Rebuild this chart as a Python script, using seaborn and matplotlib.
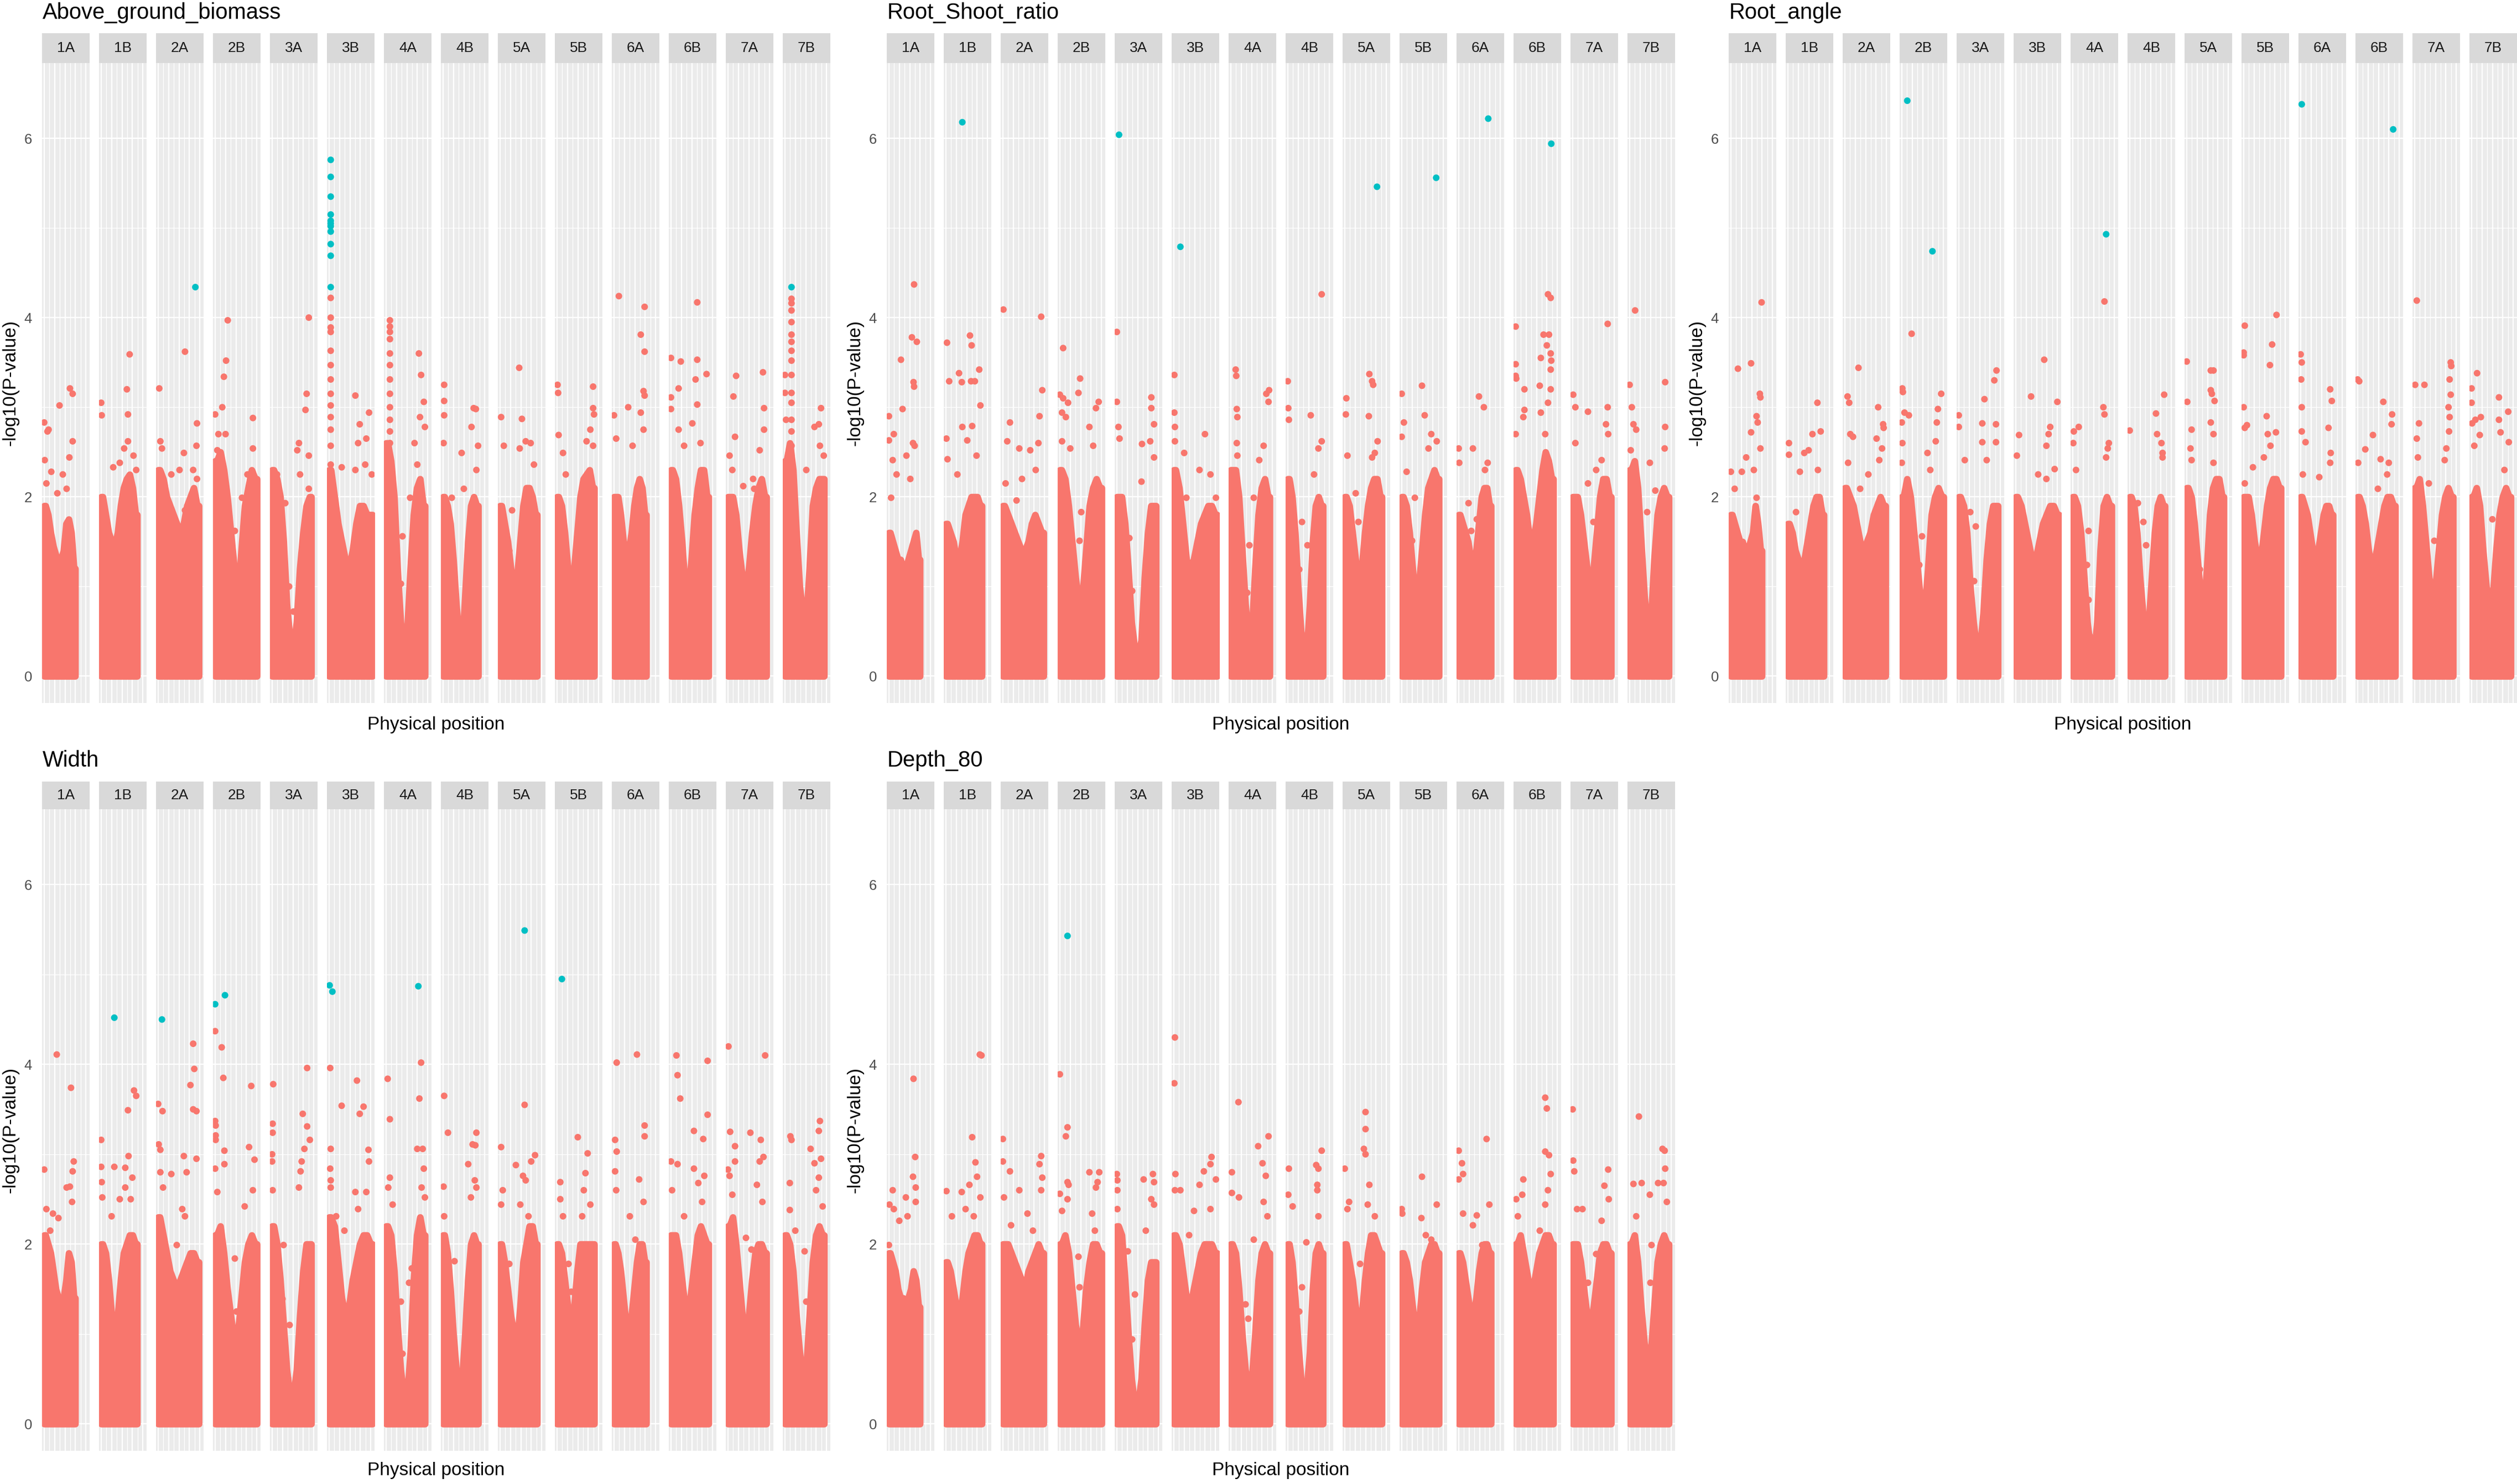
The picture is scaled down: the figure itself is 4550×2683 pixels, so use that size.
import pandas as pd
import seaborn as sns
import matplotlib
matplotlib.use("Agg")
import matplotlib.pyplot as plt

# Chromosomes and their lengths (Mb)
chroms = ["1A", "1B", "2A", "2B", "3A", "3B", "4A", "4B", "5A", "5B", "6A", "6B", "7A", "7B"]
chrom_len = [594, 689, 780, 801, 750, 830, 745, 674, 710, 713, 618, 721, 737, 751]

traits = ["Above_ground_biomass", "Root_Shoot_ratio", "Root_angle", "Width", "Depth_80"]
# -log10(P) above which a marker is flagged significant (cyan)
sig_cut = [4.3, 4.6, 4.5, 4.45, 5.0]

# Height of the dense cloud of markers, 12 windows along each chromosome
agb_env = [
    [1.9, 1.8, 1.6, 1.45, 1.35, 1.25, 1.3, 1.4, 1.7, 1.75, 1.6, 1.2],
    [2.0, 1.8, 1.6, 1.5, 1.45, 1.6, 1.9, 2.1, 2.2, 2.25, 2.1, 1.8],
    [2.3, 2.2, 2.0, 1.9, 1.8, 1.7, 1.6, 1.7, 1.9, 2.0, 2.1, 1.9],
    [2.4, 2.5, 2.3, 2.0, 1.6, 1.2, 0.8, 1.4, 1.9, 2.1, 2.3, 2.2],
    [2.3, 2.2, 2.0, 1.5, 0.8, 0.4, 0.3, 0.6, 1.2, 1.6, 1.9, 2.0],
    [2.3, 2.0, 1.7, 1.5, 1.3, 1.2, 1.4, 1.7, 1.9, 1.9, 1.8, 1.8],
    [2.6, 2.4, 2.0, 1.2, 0.6, 0.3, 0.5, 1.2, 1.8, 2.1, 2.2, 1.9],
    [2.0, 1.9, 1.7, 1.3, 0.8, 0.4, 0.3, 0.9, 1.5, 1.9, 2.0, 1.9],
    [1.9, 1.7, 1.5, 1.2, 0.9, 1.1, 1.5, 1.9, 2.1, 2.1, 2.0, 1.8],
    [2.0, 1.9, 1.6, 1.2, 0.9, 1.2, 1.6, 2.0, 2.2, 2.25, 2.3, 2.1],
    [2.0, 2.0, 1.8, 1.5, 1.3, 1.4, 1.6, 1.9, 2.1, 2.2, 2.1, 1.8],
    [2.3, 2.2, 1.9, 1.5, 1.0, 0.9, 1.3, 1.8, 2.1, 2.3, 2.3, 2.0],
    [2.0, 2.0, 1.8, 1.4, 1.1, 0.9, 1.2, 1.6, 1.9, 2.1, 2.2, 2.0],
    [2.4, 2.6, 2.3, 1.6, 1.0, 0.7, 0.6, 1.2, 1.9, 2.1, 2.2, 2.2],
]
rsr_env = [
    [1.6, 1.5, 1.4, 1.3, 1.3, 1.2, 1.2, 1.3, 1.4, 1.5, 1.6, 1.3],
    [1.7, 1.6, 1.5, 1.3, 1.3, 1.5, 1.8, 1.9, 2.0, 2.0, 2.0, 1.9],
    [1.9, 1.8, 1.7, 1.6, 1.5, 1.4, 1.4, 1.5, 1.7, 1.8, 1.7, 1.6],
    [2.3, 2.2, 1.9, 1.5, 1.1, 0.8, 0.9, 1.4, 1.9, 2.1, 2.2, 2.1],
    [2.0, 2.0, 1.7, 1.2, 0.6, 0.3, 0.2, 0.4, 1.1, 1.6, 1.9, 1.9],
    [2.3, 2.1, 1.7, 1.3, 1.2, 1.3, 1.5, 1.7, 1.8, 1.9, 1.9, 1.8],
    [2.3, 2.3, 2.0, 1.4, 0.8, 0.4, 0.5, 1.2, 1.8, 2.1, 2.2, 2.0],
    [2.2, 2.0, 1.6, 1.0, 0.5, 0.3, 0.3, 0.8, 1.5, 1.9, 2.0, 1.9],
    [2.0, 1.9, 1.6, 1.3, 1.0, 1.2, 1.6, 1.9, 2.1, 2.2, 2.2, 2.0],
    [2.0, 1.9, 1.6, 1.2, 0.8, 1.0, 1.4, 1.8, 2.1, 2.2, 2.3, 2.2],
    [1.8, 1.7, 1.6, 1.5, 1.3, 1.3, 1.4, 1.7, 2.0, 2.1, 2.1, 1.9],
    [2.3, 2.2, 2.0, 1.8, 1.5, 1.5, 1.7, 2.0, 2.3, 2.5, 2.4, 2.2],
    [2.0, 2.0, 1.8, 1.5, 1.2, 1.0, 1.2, 1.6, 2.0, 2.2, 2.2, 2.0],
    [2.3, 2.4, 2.1, 1.5, 0.9, 0.5, 0.6, 1.3, 1.8, 2.0, 2.1, 2.0],
]
ra_env = [
    [1.8, 1.7, 1.6, 1.5, 1.5, 1.4, 1.4, 1.5, 1.6, 1.9, 1.7, 1.4],
    [1.7, 1.6, 1.4, 1.3, 1.2, 1.3, 1.5, 1.7, 1.9, 2.0, 2.0, 1.8],
    [2.1, 2.0, 1.9, 1.7, 1.5, 1.4, 1.5, 1.6, 1.8, 1.9, 2.0, 1.9],
    [2.0, 2.2, 2.0, 1.6, 1.2, 0.8, 0.7, 1.2, 1.8, 2.0, 2.1, 2.0],
    [2.0, 1.9, 1.6, 1.0, 0.6, 0.3, 0.3, 0.7, 1.3, 1.7, 1.9, 1.9],
    [2.0, 1.9, 1.7, 1.5, 1.3, 1.3, 1.5, 1.7, 1.8, 1.9, 1.9, 1.8],
    [2.0, 1.9, 1.6, 1.1, 0.6, 0.3, 0.2, 0.6, 1.4, 1.9, 2.0, 1.9],
    [2.0, 1.9, 1.6, 1.1, 0.7, 0.5, 0.6, 1.1, 1.6, 1.9, 2.0, 1.9],
    [2.1, 2.0, 1.7, 1.3, 0.9, 0.7, 1.2, 1.8, 2.1, 2.2, 2.2, 2.0],
    [2.0, 2.0, 1.8, 1.5, 1.3, 1.3, 1.6, 1.9, 2.1, 2.2, 2.2, 2.1],
    [2.0, 1.9, 1.8, 1.6, 1.4, 1.3, 1.4, 1.6, 1.8, 1.9, 1.9, 1.8],
    [2.0, 1.9, 1.7, 1.4, 1.2, 1.3, 1.5, 1.7, 1.9, 2.0, 2.0, 1.9],
    [2.1, 2.2, 1.9, 1.5, 1.1, 0.9, 1.0, 1.4, 1.8, 2.0, 2.1, 2.0],
    [2.0, 2.1, 1.9, 1.4, 1.0, 0.8, 0.9, 1.4, 1.8, 2.0, 2.1, 2.0],
]
width_env = [
    [2.1, 2.0, 1.9, 1.7, 1.5, 1.4, 1.3, 1.4, 1.6, 1.9, 1.8, 1.4],
    [2.0, 1.9, 1.6, 1.2, 1.0, 1.2, 1.6, 1.9, 2.0, 2.1, 2.1, 2.0],
    [2.3, 2.1, 1.9, 1.7, 1.6, 1.5, 1.6, 1.7, 1.8, 1.9, 1.9, 1.8],
    [2.1, 2.2, 1.9, 1.5, 1.2, 0.9, 1.0, 1.4, 1.8, 2.0, 2.1, 2.0],
    [2.2, 2.0, 1.6, 1.1, 0.6, 0.3, 0.3, 0.6, 1.2, 1.7, 2.0, 2.0],
    [2.3, 2.2, 1.8, 1.4, 1.2, 1.3, 1.6, 1.8, 2.0, 2.1, 2.1, 2.0],
    [2.2, 2.1, 1.7, 1.1, 0.6, 0.3, 0.3, 0.8, 1.6, 2.1, 2.3, 2.1],
    [2.1, 1.9, 1.5, 1.0, 0.6, 0.4, 0.5, 1.0, 1.6, 2.0, 2.1, 2.0],
    [2.0, 1.8, 1.5, 1.2, 1.0, 0.9, 1.3, 1.8, 2.0, 2.2, 2.2, 2.0],
    [2.0, 1.9, 1.6, 1.3, 1.1, 1.3, 1.7, 2.0, 2.0, 2.0, 2.0, 2.0],
    [2.0, 1.9, 1.7, 1.4, 1.1, 1.0, 1.2, 1.5, 1.8, 2.0, 2.0, 1.8],
    [2.1, 2.1, 1.9, 1.6, 1.3, 1.2, 1.5, 1.8, 2.1, 2.2, 2.1, 2.0],
    [2.2, 2.3, 2.0, 1.6, 1.2, 1.0, 1.2, 1.6, 1.9, 2.0, 2.0, 1.9],
    [2.1, 2.0, 1.7, 1.2, 0.8, 0.5, 0.6, 1.2, 1.8, 2.1, 2.2, 2.1],
]
depth_env = [
    [1.9, 1.8, 1.7, 1.5, 1.4, 1.4, 1.3, 1.4, 1.5, 1.7, 1.6, 1.3],
    [1.8, 1.7, 1.5, 1.3, 1.2, 1.4, 1.7, 1.9, 2.0, 2.1, 2.1, 2.0],
    [2.0, 2.0, 1.9, 1.8, 1.7, 1.6, 1.5, 1.7, 1.8, 1.9, 2.0, 1.9],
    [2.0, 2.1, 1.9, 1.5, 1.1, 0.9, 1.0, 1.5, 1.8, 2.0, 2.0, 1.9],
    [2.2, 2.1, 1.6, 1.0, 0.5, 0.2, 0.2, 0.5, 1.1, 1.6, 1.8, 1.8],
    [2.1, 2.0, 1.7, 1.4, 1.3, 1.5, 1.7, 1.9, 2.0, 2.0, 2.0, 1.9],
    [2.0, 1.9, 1.5, 1.0, 0.6, 0.4, 0.5, 1.0, 1.6, 1.9, 2.0, 1.9],
    [2.0, 1.8, 1.4, 0.9, 0.5, 0.3, 0.4, 0.8, 1.5, 1.9, 2.0, 1.9],
    [2.0, 1.8, 1.6, 1.3, 1.1, 1.2, 1.6, 1.9, 2.1, 2.1, 2.0, 1.9],
    [1.9, 1.8, 1.6, 1.3, 1.0, 1.1, 1.5, 1.8, 1.9, 2.0, 2.0, 1.9],
    [1.9, 1.8, 1.6, 1.4, 1.2, 1.2, 1.4, 1.7, 1.9, 2.0, 2.0, 1.9],
    [2.0, 2.1, 1.9, 1.7, 1.5, 1.5, 1.7, 1.9, 2.0, 2.1, 2.1, 2.0],
    [2.0, 2.0, 1.8, 1.5, 1.2, 1.1, 1.3, 1.6, 1.9, 2.0, 2.0, 1.9],
    [2.0, 2.1, 1.8, 1.3, 0.9, 0.7, 0.8, 1.3, 1.8, 2.0, 2.1, 2.0],
]

# Markers standing out of the cloud: (position Mb, -log10 P), per chromosome
agb_pts = [
    [(0, 2.83), (84, 2.75), (63, 2.73), (10, 2.41), (294, 3.02), (494, 3.21), (546, 3.15), (546, 2.62), (483, 2.44), (136, 2.28), (357, 2.25), (252, 2.04), (430, 2.09), (42, 2.15)],
    [(0, 3.05), (10, 2.91), (546, 3.59), (493, 3.20), (514, 2.92), (514, 2.62), (441, 2.54), (231, 2.33), (620, 2.46), (357, 2.38), (672, 2.30)],
    [(714, 4.34), (21, 3.21), (42, 2.62), (73, 2.54), (515, 3.62), (494, 2.49), (410, 2.30), (672, 2.30), (745, 2.82), (735, 2.57), (745, 2.2), (252, 2.25), (515, 1.85)],
    [(242, 3.97), (210, 3.52), (168, 3.34), (137, 3.00), (0, 2.92), (63, 2.70), (200, 2.70), (725, 2.88), (725, 2.54), (620, 2.25), (42, 2.52), (378, 1.62), (515, 1.99)],
    [(704, 4.00), (662, 3.15), (641, 2.97), (515, 2.60), (483, 2.52), (704, 2.46), (536, 2.25), (704, 2.09), (94, 2.25), (252, 1.93), (326, 1.0), (357, 0.34), (410, 0.72), (200, 1.5)],
    [(31, 5.76), (31, 5.57), (31, 5.35), (31, 5.15), (31, 5.08), (31, 5.05), (31, 5.02), (31, 4.96), (31, 4.82), (31, 4.69), (31, 4.34),
     (31, 4.22), (31, 4.0), (31, 3.89), (31, 3.84), (31, 3.63), (31, 3.47), (31, 3.31), (31, 3.15), (31, 3.02), (31, 2.89), (31, 2.75), (31, 2.57), (31, 2.36), (31, 2.15),
     (504, 3.13), (588, 2.81), (557, 2.60), (767, 2.94), (714, 2.65), (693, 2.36), (242, 2.33), (504, 2.30), (819, 2.25)],
    [(74, 3.97), (74, 3.90), (74, 3.84), (74, 3.76), (74, 3.60), (74, 3.47), (74, 3.31), (74, 3.15), (74, 3.0), (74, 2.86), (74, 2.73), (74, 2.60),
     (630, 3.6), (672, 3.36), (725, 3.06), (651, 2.89), (745, 2.78), (546, 2.6), (599, 2.36), (462, 1.99), (315, 1.56), (284, 1.03)],
    [(21, 3.25), (21, 3.07), (21, 2.91), (10, 2.6), (588, 2.99), (630, 2.98), (546, 2.78), (672, 2.57), (357, 2.49), (640, 2.30), (168, 1.99), (399, 2.09)],
    [(368, 3.44), (21, 2.89), (420, 2.87), (73, 2.57), (493, 2.62), (588, 2.6), (651, 2.36), (378, 2.54), (178, 1.40), (231, 1.85)],
    [(10, 3.25), (21, 3.16), (31, 2.69), (693, 3.23), (693, 2.99), (710, 2.92), (640, 2.75), (693, 2.57), (567, 2.62), (115, 2.49), (168, 2.25)],
    [(94, 4.24), (588, 4.12), (514, 3.81), (588, 3.62), (567, 3.18), (588, 3.13), (273, 3.0), (0, 2.91), (514, 2.94), (42, 2.65), (567, 2.75), (357, 2.57)],
    [(504, 4.17), (0, 3.55), (189, 3.51), (504, 3.53), (683, 3.37), (472, 3.31), (147, 3.21), (0, 3.11), (504, 3.03), (0, 2.98), (410, 2.82), (147, 2.75), (567, 2.6), (252, 2.57)],
    [(157, 3.35), (672, 3.39), (105, 3.12), (136, 2.67), (31, 2.46), (84, 2.3), (693, 2.99), (693, 2.75), (609, 2.52), (294, 2.12), (504, 2.09), (483, 2.2)],
    [(126, 4.34), (126, 4.21), (126, 4.16), (126, 4.08), (126, 3.95), (126, 3.81), (126, 3.73), (126, 3.63), (126, 3.52), (126, 3.36), (126, 3.16), (126, 3.05), (126, 2.86), (126, 2.73), (126, 2.57),
     (0, 3.36), (0, 3.16), (21, 2.86), (693, 2.99), (567, 2.78), (651, 2.81), (672, 2.57), (410, 2.30), (745, 2.46)],
]
rsr_pts = [
    [(483, 4.37), (441, 3.78), (536, 3.73), (231, 3.53), (472, 3.28), (483, 3.23), (262, 2.98), (0, 2.90), (0, 2.63), (94, 2.70), (462, 2.60), (494, 2.57), (73, 2.41), (336, 2.46), (147, 2.25), (410, 2.2), (42, 1.99)],
    [(315, 6.18), (21, 3.72), (462, 3.80), (494, 3.69), (252, 3.38), (63, 3.29), (305, 3.28), (483, 3.29), (556, 3.29), (640, 3.42), (662, 3.02), (315, 2.78), (504, 2.79), (10, 2.65), (410, 2.63), (31, 2.42), (588, 2.46), (220, 2.25)],
    [(10, 4.09), (735, 4.01), (756, 3.19), (703, 2.90), (136, 2.83), (84, 2.62), (315, 2.54), (525, 2.52), (682, 2.60), (630, 2.30), (52, 2.15), (367, 2.2), (262, 1.96)],
    [(63, 3.66), (389, 3.32), (0, 3.14), (63, 3.10), (157, 3.05), (357, 3.16), (42, 2.94), (115, 2.89), (745, 3.06), (693, 2.99), (567, 2.78), (640, 2.57), (42, 2.62), (200, 2.54), (378, 1.51), (410, 1.83)],
    [(42, 6.04), (0, 3.84), (0, 3.06), (31, 2.78), (52, 2.65), (483, 2.59), (662, 3.11), (662, 2.99), (714, 2.81), (641, 2.62), (714, 2.44), (473, 2.17), (241, 1.54), (294, 0.95), (347, 0.34), (136, 1.72)],
    [(126, 4.79), (10, 3.36), (10, 2.94), (21, 2.78), (21, 2.62), (199, 2.49), (598, 2.70), (493, 2.30), (703, 2.25), (808, 1.99), (241, 1.99), (189, 1.56)],
    [(94, 3.42), (105, 3.35), (115, 2.98), (126, 2.89), (115, 2.6), (126, 2.46), (735, 3.19), (682, 3.15), (724, 3.06), (630, 2.57), (546, 2.41), (441, 1.99), (357, 1.46), (315, 0.93)],
    [(651, 4.26), (0, 3.29), (10, 2.99), (21, 2.86), (441, 2.91), (651, 2.62), (588, 2.54), (504, 2.25), (220, 1.19), (378, 1.46), (273, 1.72)],
    [(619, 5.46), (472, 3.37), (525, 3.29), (546, 3.25), (31, 3.1), (21, 2.92), (462, 2.90), (630, 2.62), (577, 2.49), (52, 2.46), (525, 2.44), (210, 2.04), (262, 1.72)],
    [(661, 5.56), (0, 3.15), (389, 3.24), (42, 2.83), (441, 2.91), (0, 2.67), (567, 2.70), (672, 2.62), (514, 2.54), (94, 2.28), (252, 1.99), (199, 1.51)],
    [(567, 6.22), (389, 3.12), (483, 3.0), (0, 2.54), (273, 2.54), (10, 2.38), (556, 2.38), (504, 2.30), (189, 1.93), (347, 1.75), (241, 1.62)],
    [(683, 5.94), (620, 4.26), (672, 4.22), (0, 3.90), (535, 3.81), (640, 3.81), (598, 3.69), (672, 3.60), (483, 3.55), (0, 3.48), (683, 3.52), (672, 3.42), (0, 3.35), (10, 3.32),
     (462, 3.24), (168, 3.20), (672, 3.2), (620, 3.05), (168, 2.97), (483, 2.94), (147, 2.89), (0, 2.70), (567, 2.70)],
    [(672, 3.93), (10, 3.14), (52, 3.0), (294, 2.95), (672, 3.0), (640, 2.81), (682, 2.70), (52, 2.60), (556, 2.41), (451, 2.30), (294, 2.15), (399, 1.72)],
    [(105, 4.08), (0, 3.25), (682, 3.28), (42, 3.0), (73, 2.81), (126, 2.75), (682, 2.78), (672, 2.54), (388, 2.38), (21, 2.52), (493, 2.07), (336, 1.83)],
]
ra_pts = [
    [(590, 4.17), (136, 3.43), (388, 3.49), (556, 3.15), (567, 3.11), (493, 2.90), (514, 2.83), (388, 2.72), (567, 2.54), (294, 2.44), (0, 2.28), (210, 2.28), (73, 2.09), (441, 2.30), (493, 1.99)],
    [(567, 3.05), (21, 2.60), (21, 2.47), (472, 2.70), (630, 2.73), (315, 2.49), (399, 2.52), (231, 2.28), (577, 2.30), (157, 1.83)],
    [(262, 3.44), (52, 3.12), (84, 3.05), (640, 3.00), (735, 2.81), (745, 2.77), (105, 2.70), (157, 2.67), (609, 2.65), (714, 2.54), (63, 2.38), (661, 2.41), (294, 2.09), (451, 2.25)],
    [(105, 6.42), (588, 4.74), (189, 3.82), (10, 3.21), (21, 3.17), (52, 2.94), (0, 2.83), (136, 2.91), (756, 3.15), (693, 2.98), (672, 2.83), (651, 2.62), (493, 2.49), (10, 2.60), (0, 2.38), (546, 2.30), (388, 1.56), (336, 1.24)],
    [(724, 3.41), (682, 3.30), (493, 3.09), (0, 2.91), (0, 2.78), (451, 2.82), (714, 2.81), (451, 2.61), (714, 2.61), (115, 2.41), (536, 2.41), (220, 1.83), (326, 1.67), (294, 1.06), (273, 0.24)],
    [(546, 3.53), (294, 3.12), (798, 3.06), (63, 2.69), (661, 2.78), (630, 2.70), (588, 2.57), (746, 2.31), (21, 2.46), (430, 2.25), (588, 2.2)],
    [(641, 4.93), (609, 4.18), (588, 3.00), (609, 2.92), (21, 2.73), (115, 2.78), (10, 2.60), (693, 2.60), (672, 2.54), (63, 2.30), (641, 2.44), (304, 1.62), (273, 1.24), (304, 0.85), (326, 0.45)],
    [(661, 3.14), (0, 2.74), (504, 2.93), (525, 2.70), (609, 2.60), (630, 2.49), (630, 2.44), (157, 1.93), (315, 1.46), (262, 1.72)],
    [(0, 3.51), (462, 3.41), (514, 3.41), (462, 3.19), (483, 3.15), (10, 3.06), (535, 3.07), (94, 2.75), (462, 2.83), (73, 2.54), (514, 2.70), (94, 2.41), (514, 2.38), (252, 1.19), (200, 0.93)],
    [(630, 4.03), (21, 3.91), (0, 3.61), (0, 3.58), (546, 3.70), (504, 3.47), (0, 3.00), (441, 2.90), (63, 2.80), (21, 2.77), (619, 2.72), (462, 2.70), (514, 2.57), (388, 2.44), (178, 2.33), (21, 2.15)],
    [(21, 6.38), (0, 3.59), (21, 3.50), (10, 3.31), (21, 3.00), (567, 3.20), (598, 3.07), (21, 2.73), (94, 2.61), (535, 2.77), (577, 2.49), (567, 2.38), (42, 2.25), (357, 2.22)],
    [(682, 6.10), (0, 3.31), (31, 3.29), (493, 3.06), (661, 2.92), (294, 2.69), (147, 2.53), (10, 2.38), (441, 2.42), (598, 2.38), (651, 2.81), (567, 2.25), (389, 2.09)],
    [(42, 4.19), (10, 3.25), (189, 3.25), (693, 3.50), (703, 3.46), (672, 3.31), (693, 3.14), (651, 3.00), (84, 2.82), (672, 2.89), (661, 2.73), (42, 2.65), (63, 2.44), (609, 2.54), (577, 2.41), (378, 1.51), (273, 2.15)],
    [(105, 3.38), (0, 3.21), (0, 3.05), (73, 2.86), (178, 2.89), (10, 2.82), (525, 3.11), (703, 2.95), (525, 2.86), (556, 2.72), (714, 2.61), (157, 2.69), (52, 2.57), (630, 2.30), (399, 1.75)],
]
width_pts = [
    [(241, 4.11), (514, 3.74), (0, 2.83), (567, 2.92), (546, 2.81), (430, 2.63), (493, 2.64), (42, 2.39), (168, 2.34), (273, 2.29), (535, 2.47), (115, 2.15)],
    [(252, 4.52), (630, 3.71), (672, 3.65), (514, 3.49), (0, 3.16), (525, 2.98), (0, 2.86), (252, 2.86), (462, 2.85), (10, 2.69), (598, 2.74), (462, 2.63), (357, 2.50), (567, 2.50), (200, 2.31), (21, 2.52)],
    [(73, 4.50), (672, 4.23), (693, 3.95), (619, 3.77), (672, 3.50), (735, 3.48), (0, 3.56), (84, 3.48), (10, 3.11), (42, 3.05), (493, 2.98), (735, 2.95), (546, 2.80), (42, 2.80), (252, 2.78), (94, 2.63), (462, 2.39), (514, 2.31), (357, 1.99)],
    [(0, 4.67), (189, 4.77), (0, 4.37), (126, 4.19), (157, 3.85), (0, 3.37), (10, 3.32), (10, 3.21), (10, 3.16), (178, 3.04), (178, 2.89), (0, 2.84), (651, 3.08), (693, 3.76), (756, 2.94), (724, 2.60), (42, 2.58), (567, 2.42), (378, 1.84), (410, 1.25)],
    [(21, 3.78), (672, 3.96), (10, 3.34), (10, 3.24), (0, 3.00), (0, 2.92), (588, 3.45), (672, 3.31), (619, 3.06), (724, 3.16), (567, 2.92), (546, 2.81), (514, 2.63), (10, 2.60), (220, 1.99), (199, 1.39), (336, 1.10), (304, 0.51)],
    [(10, 4.88), (63, 4.81), (21, 3.96), (31, 3.06), (21, 2.84), (31, 2.71), (31, 2.63), (241, 3.54), (535, 3.82), (588, 3.45), (661, 3.53), (756, 3.05), (766, 2.92), (504, 2.58), (714, 2.58), (557, 2.39), (136, 2.31), (294, 2.15)],
    [(619, 4.87), (672, 4.02), (640, 3.62), (31, 3.84), (73, 3.39), (598, 3.06), (703, 3.06), (724, 2.84), (682, 2.63), (745, 2.52), (73, 2.74), (42, 2.63), (126, 2.44), (493, 1.73), (441, 1.57), (284, 1.36), (315, 0.78)],
    [(21, 3.65), (94, 3.24), (640, 3.24), (567, 3.11), (619, 3.10), (483, 2.89), (10, 2.64), (609, 2.71), (640, 2.63), (535, 2.52), (21, 2.31), (220, 1.81), (115, 1.68)],
    [(472, 5.49), (472, 3.55), (21, 3.08), (672, 2.99), (598, 2.92), (304, 2.88), (441, 2.76), (493, 2.71), (52, 2.60), (21, 2.44), (389, 2.44), (546, 2.31), (178, 1.78), (231, 1.12)],
    [(94, 4.95), (399, 3.19), (588, 3.01), (63, 2.69), (546, 2.79), (514, 2.60), (640, 2.44), (483, 2.31), (63, 2.50), (115, 2.31), (220, 1.78), (273, 1.47)],
    [(52, 4.02), (441, 4.11), (588, 3.32), (588, 3.20), (21, 3.16), (52, 3.03), (21, 2.81), (483, 2.72), (567, 2.47), (42, 2.60), (304, 2.31), (410, 2.05)],
    [(105, 4.10), (703, 4.04), (126, 3.88), (178, 3.62), (703, 3.44), (441, 3.26), (619, 3.17), (0, 2.92), (126, 2.89), (441, 2.84), (525, 2.68), (640, 2.76), (21, 2.60), (598, 2.47), (252, 2.31)],
    [(10, 4.20), (714, 4.10), (42, 3.25), (430, 3.24), (630, 3.16), (136, 3.09), (682, 2.97), (609, 2.92), (136, 2.92), (0, 2.83), (31, 2.76), (556, 2.66), (661, 2.47), (84, 2.55), (346, 2.07), (451, 1.94)],
    [(672, 3.37), (651, 3.26), (105, 3.20), (126, 3.16), (493, 3.06), (693, 2.95), (567, 2.90), (651, 2.74), (94, 2.68), (598, 2.60), (94, 2.38), (724, 2.42), (199, 2.15), (378, 1.92), (410, 1.36)],
]
depth_pts = [
    [(472, 3.84), (504, 2.97), (462, 2.75), (514, 2.63), (73, 2.60), (325, 2.52), (10, 2.44), (514, 2.47), (94, 2.39), (199, 2.26), (0, 1.99), (357, 2.31)],
    [(651, 4.11), (683, 4.10), (504, 3.19), (567, 2.91), (10, 2.59), (304, 2.58), (451, 2.66), (598, 2.75), (661, 2.52), (115, 2.31), (378, 2.39), (535, 2.31)],
    [(0, 3.17), (0, 2.92), (136, 2.81), (735, 2.98), (703, 2.89), (756, 2.74), (735, 2.60), (21, 2.52), (315, 2.60), (472, 2.34), (157, 2.21), (577, 2.15)],
    [(147, 5.43), (0, 3.89), (147, 3.30), (115, 3.20), (0, 2.56), (147, 2.69), (168, 2.66), (567, 2.80), (756, 2.80), (724, 2.69), (693, 2.63), (619, 2.34), (42, 2.37), (147, 2.50), (672, 2.15), (357, 1.86), (378, 1.52)],
    [(0, 2.78), (10, 2.71), (10, 2.60), (10, 2.39), (514, 2.72), (693, 2.78), (714, 2.69), (661, 2.50), (714, 2.44), (556, 2.15), (210, 1.92), (347, 1.44), (294, 0.94), (347, 0.25)],
    [(21, 4.30), (10, 3.79), (31, 2.78), (21, 2.60), (126, 2.60), (724, 2.97), (703, 2.89), (577, 2.81), (808, 2.72), (494, 2.66), (388, 2.37), (703, 2.39), (126, 1.86), (294, 2.10)],
    [(147, 3.58), (724, 3.20), (525, 3.09), (609, 2.90), (21, 2.80), (672, 2.76), (21, 2.57), (157, 2.52), (630, 2.47), (703, 2.31), (336, 1.17), (284, 1.33), (441, 2.05)],
    [(651, 3.04), (546, 2.88), (588, 2.84), (21, 2.84), (567, 2.66), (567, 2.60), (10, 2.55), (94, 2.42), (588, 2.31), (357, 2.02), (273, 1.52), (220, 1.25)],
    [(399, 3.47), (399, 3.28), (367, 3.06), (399, 3.00), (0, 2.84), (472, 2.66), (84, 2.47), (52, 2.39), (441, 2.44), (577, 2.31), (294, 1.78)],
    [(389, 2.75), (672, 2.44), (0, 2.39), (10, 2.34), (378, 2.29), (462, 2.10), (567, 2.05), (199, 1.31), (94, 1.78)],
    [(535, 3.17), (0, 3.04), (63, 2.90), (84, 2.78), (0, 2.72), (588, 2.44), (84, 2.34), (347, 2.32), (273, 2.21), (451, 1.99)],
    [(567, 3.63), (598, 3.51), (567, 3.03), (640, 2.99), (672, 2.78), (619, 2.60), (147, 2.72), (126, 2.55), (10, 2.50), (567, 2.44), (462, 2.15), (42, 2.31)],
    [(0, 3.50), (10, 2.93), (31, 2.81), (682, 2.83), (609, 2.65), (693, 2.50), (84, 2.39), (189, 2.39), (451, 1.89), (294, 1.57), (556, 2.26)],
    [(178, 3.42), (630, 3.06), (672, 3.04), (682, 2.84), (73, 2.67), (231, 2.68), (546, 2.68), (651, 2.68), (388, 2.55), (714, 2.47), (126, 2.31), (399, 1.57), (420, 1.99)],
]

env_all = [agb_env, rsr_env, ra_env, width_env, depth_env]
pts_all = [agb_pts, rsr_pts, ra_pts, width_pts, depth_pts]

# ---- styling ----
RED = "#F8766D"
CYAN = "#00BFC4"
sns.set_theme(style="darkgrid", rc={
    "axes.facecolor": "#EBEBEB",
    "figure.facecolor": "white",
    "grid.color": "white",
})
plt.rcParams["font.family"] = ["Liberation Sans", "DejaVu Sans"]

W, H, DPI = 4550, 2683, 300
fig = plt.figure(figsize=(W / DPI, H / DPI), dpi=DPI)


def fx(px):
    return px / W


def fy(py):
    return 1 - py / H


# layout in pixels of the reference picture
panel_x0 = [76, 1603, 3125, 76, 1603]
panel_row = [0, 0, 0, 1, 1]
strip_top = [60, 1413]
plot_top = [114, 1463]
plot_bottom = [1271, 2623]
title_base = [34, 1386]
xlab_y = [1310, 2659]
FW, PITCH = 86, 103
XLIM = (-41.5, 871.5)
YLIM = (-0.30, 6.84)
PT_SIZE = 8.3  # marker area, pt^2

for p, trait in enumerate(traits):
    r = panel_row[p]
    x0 = panel_x0[p]
    env = env_all[p]
    pts = pts_all[p]

    for c, chrom in enumerate(chroms):
        left = x0 + c * PITCH
        ax = fig.add_axes([fx(left), fy(plot_bottom[r]), FW / W,
                           (plot_bottom[r] - plot_top[r]) / H])
        L = chrom_len[c]

        # dense cloud of non-significant markers
        nbin = len(env[c])
        xs = [0] + [(i + 0.5) * L / nbin for i in range(nbin)] + [L]
        ys = [env[c][0]] + env[c] + [env[c][-1]]
        ax.fill_between(xs, 0, ys, color=RED, edgecolor=RED, linewidth=2.9,
                        joinstyle="round", zorder=2)

        # individual markers above the cloud
        df = pd.DataFrame(pts[c], columns=["pos", "logp"])
        df["sig"] = df["logp"] > sig_cut[p]
        sns.scatterplot(data=df, x="pos", y="logp", hue="sig",
                        palette={False: RED, True: CYAN}, s=PT_SIZE,
                        linewidth=0, legend=False, ax=ax, zorder=3)

        ax.set_xlim(*XLIM)
        ax.set_ylim(*YLIM)
        ax.set_xticks([0, 200, 400, 600, 800])
        ax.set_xticks([100, 300, 500, 700], minor=True)
        ax.set_yticks([0, 2, 4, 6])
        ax.set_yticks([1, 3, 5], minor=True)
        ax.grid(which="major", color="white", linewidth=0.55)
        ax.grid(which="minor", color="white", linewidth=0.3)
        ax.set_axisbelow(True)
        ax.tick_params(which="both", length=0, labelbottom=False)
        ax.set_xlabel("")
        ax.set_ylabel("")
        for s in ax.spines.values():
            s.set_visible(False)
        if c == 0:
            ax.tick_params(axis="y", pad=4.3, labelsize=6.2, labelcolor="#4D4D4D")
        else:
            ax.tick_params(axis="y", labelleft=False)

        # facet strip
        sax = fig.add_axes([fx(left), fy(plot_top[r]), FW / W,
                            (plot_top[r] - strip_top[r]) / H])
        sax.set_facecolor("#D9D9D9")
        sax.set_xticks([])
        sax.set_yticks([])
        sax.grid(False)
        for s in sax.spines.values():
            s.set_visible(False)
        sax.text(0.5, 0.5, chrom, ha="center", va="center",
                 fontsize=6.3, color="#1A1A1A", transform=sax.transAxes)

    # panel title and axis titles
    fig.text(fx(x0 + 1), fy(title_base[r]), trait, ha="left", va="baseline",
             fontsize=9.6, color="black")
    x_mid = x0 + (13 * PITCH + FW) / 2
    fig.text(fx(x_mid), fy(xlab_y[r]), "Physical position", ha="center",
             va="center", fontsize=8, color="black")
    fig.text(fx(x0 - 57), fy((plot_top[r] + plot_bottom[r]) / 2), "-log10(P-value)",
             ha="center", va="center", rotation=90, fontsize=8, color="black")

fig.savefig("out.png", dpi=DPI)
